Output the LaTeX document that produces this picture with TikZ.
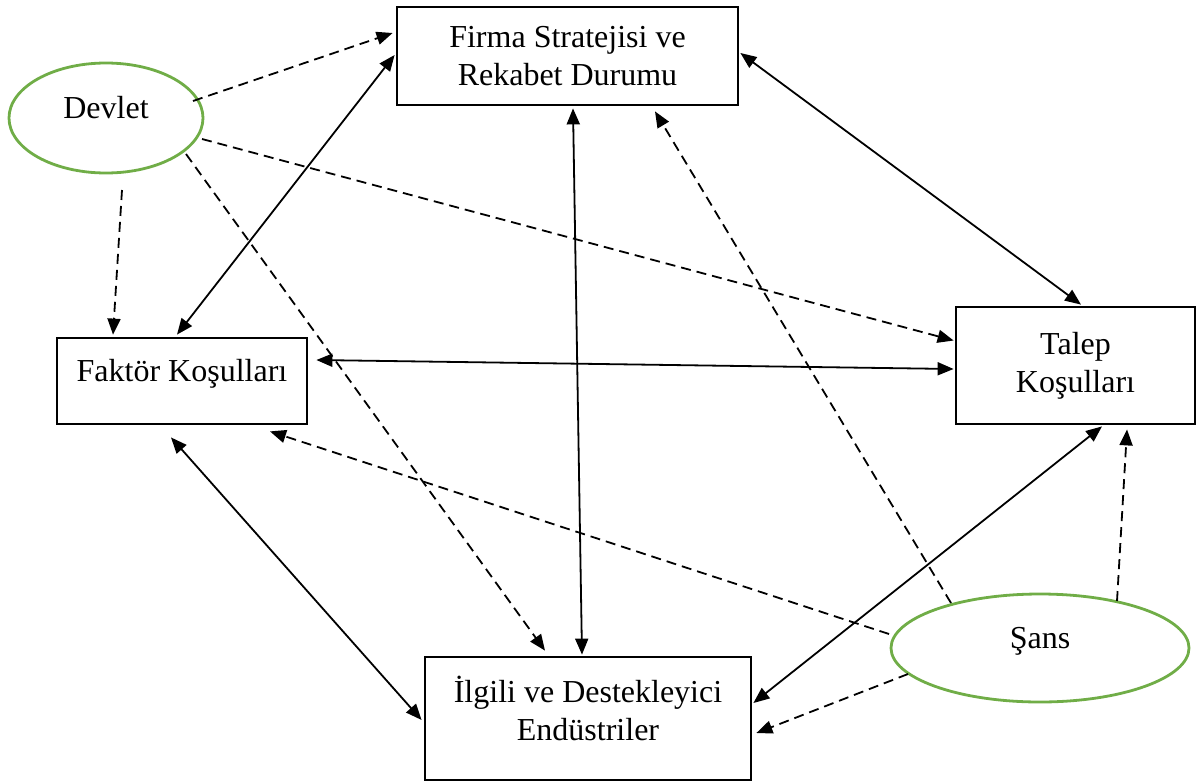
\documentclass[tikz,border=0pt]{standalone}
\usepackage{fontspec}
\setmainfont{Liberation Serif}
\usetikzlibrary{arrows.meta,calc,shapes.geometric}
\definecolor{elgreen}{RGB}{112,173,71}
\begin{document}
\begin{tikzpicture}[x=1pt,y=-1pt,
  lbl/.style={font=\fontsize{32}{38}\selectfont},
  box/.style={draw,line width=2.8pt,inner sep=0pt,align=center,lbl},
  oval/.style={ellipse,draw=elgreen,line width=2.8pt,inner sep=0pt,lbl,text height=20pt,text depth=20pt},
  txt/.style={inner sep=0pt,align=center,lbl},
  tip/.tip={Triangle[length=16pt,width=13pt]},
  link/.style={line width=1.8pt,-tip},
  both/.style={line width=1.8pt,tip-tip},
  dlink/.style={link,dash pattern=on 10pt off 6pt}]
\path[use as bounding box] (0,0) rectangle (1196,782);

% boxes
\node[box,minimum width=341pt,minimum height=98pt] (firma) at (567.5,56) {Firma Stratejisi ve\\Rekabet Durumu};
\node[box,minimum width=239pt,minimum height=117pt] (talep) at (1075.5,365.5) {Talep\\Koşulları};
\node[box,minimum width=250pt,minimum height=86pt,text height=22pt,text depth=22pt] (fak) at (182,381) {Faktör Koşulları};
\node[box,minimum width=326pt,minimum height=123pt] (ilg) at (588,718.5) {};
\node[txt] (ilgt) at (588,708) {İlgili ve Destekleyici\\Endüstriler};

% ellipses
\node[oval,minimum width=194pt,minimum height=110pt] (devlet) at (106,118) {Devlet};
\node[oval,minimum width=298pt,minimum height=108pt] (sans) at (1040,648) {Şans};

% Devlet influences (dashed)
\draw[dlink] ($(devlet)+(87,-17)$) -- ($(firma.west)+(-3,-23)$);
\draw[dlink] ($(devlet)+(16,72)$) -- ($(fak.north)+(-69,-2)$);
\draw[dlink] ($(devlet)+(96,21)$) -- ($(talep.west)+(-1,-25)$);
\draw[dlink] ($(devlet)+(80,36)$) -- ($(ilg.north)+(-43,-5)$);

% Sans influences (dashed)
\draw[dlink] ($(sans)+(-89,-45)$) -- ($(firma.south)+(87.5,5)$);
\draw[dlink] ($(sans)+(-151,-14)$) -- ($(fak.south)+(88,6)$);
\draw[dlink] ($(sans)+(77,-47)$) -- ($(talep.south)+(51.5,4)$);
\draw[dlink] ($(sans)+(-132,26)$) -- ($(ilg.east)+(4,14.5)$);

% diamond relations (solid, two-way)
\draw[both] ($(fak.north)+(-5,-2)$) -- ($(firma.west)+(-1,-1)$);
\draw[both] ($(firma.south)+(5.5,2)$) -- ($(ilg.north)+(-6,-1)$);
\draw[both] ($(firma.east)+(1,-3)$) -- ($(talep.north)+(5.5,-1)$);
\draw[both] ($(fak.east)+(8,-21)$) -- ($(talep.west)+(-1,3.5)$);
\draw[both] ($(fak.south)+(-11,12)$) -- ($(ilg.west)+(-2,1.5)$);
\draw[both] ($(ilg.east)+(1,-15.5)$) -- ($(talep.south)+(26.5,1)$);
\end{tikzpicture}
\end{document}
